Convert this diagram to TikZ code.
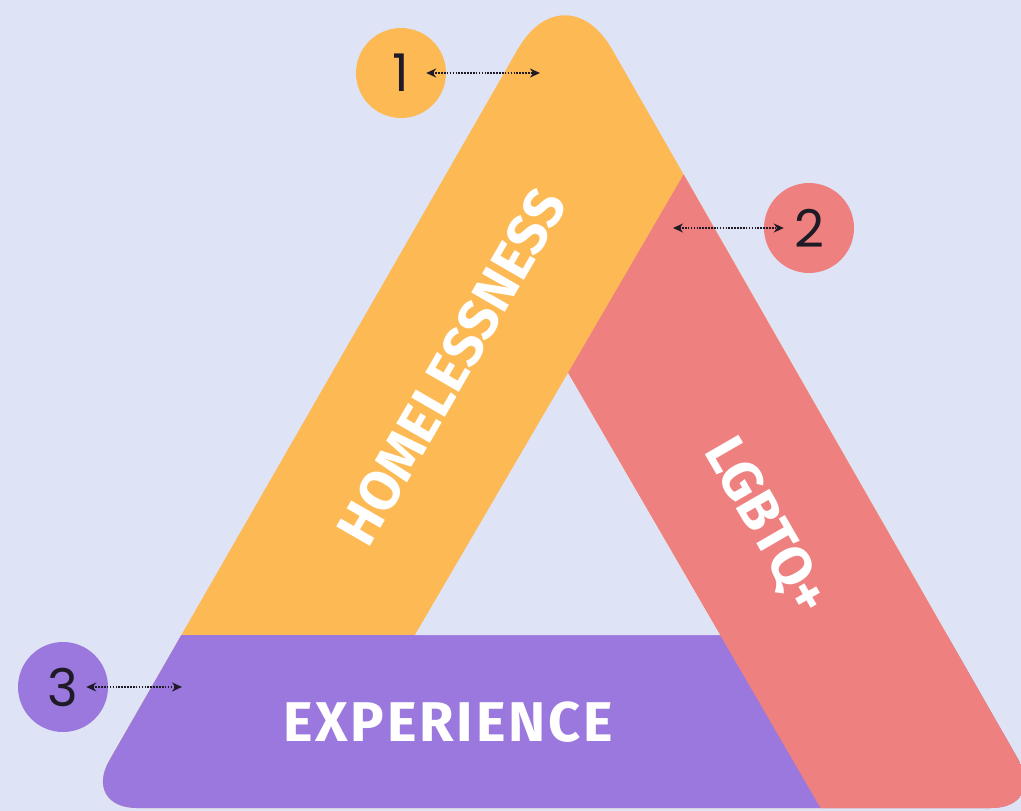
\documentclass[tikz,border=0pt]{standalone}
\usepackage{fontspec}
\setmainfont{Fira Sans}
\newfontfamily\numfont{Poppins}
\usetikzlibrary{arrows.meta}
\definecolor{bg}{HTML}{DFE3F6}
\definecolor{sun}{HTML}{FDB954}
\definecolor{rose}{HTML}{EF8080}
\definecolor{lilac}{HTML}{9B78DE}
\definecolor{ink}{HTML}{1E1B26}
\begin{document}
\begin{tikzpicture}[x=1pt, y=-1pt,
  band/.style = {inner sep=0pt, text=white, font=\bfseries\fontsize{56}{56}\selectfont},
  num/.style = {shape=circle, minimum size=90pt, inner sep=0pt, text=ink,
    font=\numfont\fontsize{52}{52}\selectfont},
  link/.style = {{Stealth[length=10pt,width=9pt]}-{Stealth[length=10pt,width=9pt]},
    ink, line width=1.7pt, dash pattern=on 1.6pt off 1.3pt}]
\fill[bg] (0,0) rectangle (1021,811);
\useasboundingbox (0,0) rectangle (1021,811);
\begin{scope}
\clip (0,0) rectangle (1021,811);
\clip (560,808) [rounded corners=55pt] -- (82,808) [rounded corners=95pt] -- (565,-33)
  [rounded corners=55pt] -- (1046,808) -- cycle;
\fill[sun] (0,-60) rectangle (1100,900);
\fill[lilac] (0,635) rectangle (1100,900);
\fill[rose] (568,373) -- (727,100) -- (1100,100) -- (1100,900) -- (874,900) -- cycle;
\fill[bg] (568,373) -- (720,635) -- (415,635) -- cycle;
\end{scope}
\node[band, rotate=60] (homeless) at (452,367) {HOMELESSNESS};
\node[band, rotate=-60] (lgbtq) at (765,527) {LGBTQ+};
\node[band] (experience) at (448,722) {\addfontfeatures{LetterSpace=5}EXPERIENCE};
\node[num, fill=sun] (one) at (401,73) {1};
\node[num, fill=rose] (two) at (809,228) {2};
\node[num, fill=lilac] (three) at (63,687) {3};
\coordinate (tip1) at (540,73);
\coordinate (tip2) at (673,228);
\coordinate (tip3) at (182,687);
\draw[link] ([xshift=-20pt]one.east) -- (tip1);
\draw[link] (tip2) -- ([xshift=20pt]two.west);
\draw[link] ([xshift=-22pt]three.east) -- (tip3);
\end{tikzpicture}
\end{document}
